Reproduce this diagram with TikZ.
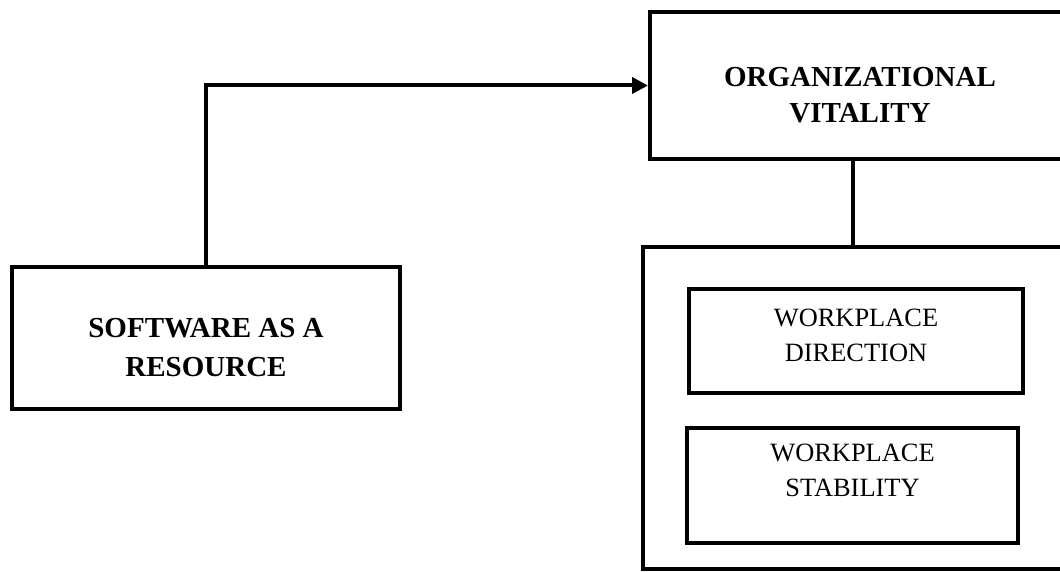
\documentclass[tikz,border=0pt]{standalone}
\usepackage{fontspec}
\setmainfont{Liberation Serif}
\usetikzlibrary{arrows.meta,positioning}

\begin{document}
\begin{tikzpicture}[x=1pt, y=-1pt,
  box/.style={draw, line width=4pt, inner sep=0pt},
  inbox/.style={draw, line width=3.6pt, inner sep=0pt},
  head/.style={align=center, font=\fontsize{29}{36}\selectfont\bfseries},
  txt/.style={align=center, font=\fontsize{26.4}{35}\selectfont},
  arrow/.style={-{Triangle[length=16pt, width=16pt]}, line width=4pt}]
\useasboundingbox (0,0) rectangle (1060,572);
\clip (0,0) rectangle (1060,572);
% left and top boxes
\node[box, minimum width=388pt, minimum height=142pt,
      label={[name=softtxt, head, font=\fontsize{29}{39}\selectfont\bfseries,
              yshift=-10pt]center:SOFTWARE AS A\\RESOURCE}]
      (soft) at (206,338) {};
\node[box, minimum width=420pt, minimum height=147pt,
      label={[name=vitaltxt, head, yshift=-10pt]center:ORGANIZATIONAL\\VITALITY}]
      (vital) at (860,85.5) {};
% group of dimensions
\node[box, minimum width=432pt, minimum height=322pt] (dims) at (859,408) {};
\node[inbox, minimum width=334pt, minimum height=104pt,
      label={[name=dirtxt, txt, yshift=6pt]center:WORKPLACE\\DIRECTION}]
      (dir) at (856,341) {};
\node[inbox, minimum width=331pt, minimum height=115pt,
      label={[name=stabtxt, txt, yshift=15pt]center:WORKPLACE\\STABILITY}]
      (stab) at (852.5,485.5) {};
% connectors
\draw[arrow] (soft.north) |- (vital.west);
\draw[line width=4pt] ([xshift=-7pt]vital.south) -- ([xshift=-7pt]vital.south |- dims.north);
\end{tikzpicture}
\end{document}
